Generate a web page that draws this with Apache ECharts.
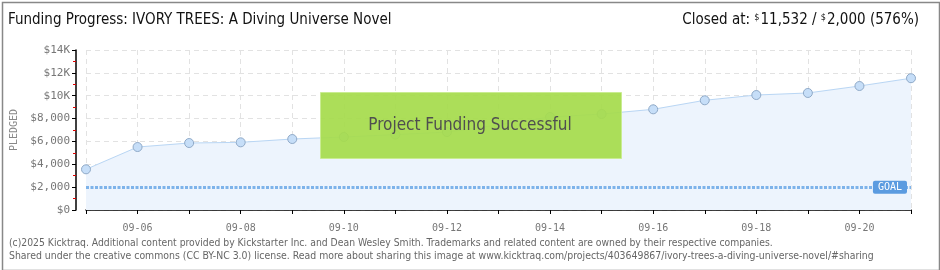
<!DOCTYPE html>
<html><head><meta charset="utf-8">
<script src="https://cdn.jsdelivr.net/npm/echarts@6/dist/echarts.min.js"></script>
<style>html,body{margin:0;padding:0;background:#fff}#c{width:940px;height:270px}</style>
</head><body><div id="c"></div>
<script>
const dates = ['09-05','09-06','09-07','09-08','09-09','09-10','09-11','09-12','09-13','09-14','09-15','09-16','09-17','09-18','09-19','09-20','09-21'];
const pledged = [3560,5510,5860,5920,6210,6390,6600,6820,7450,8140,8400,8810,9600,10060,10240,10850,11532];
const goal = 2000;
const yTicks = {0:'$0',2000:'$2,000',4000:'$4,000',6000:'$6,000',8000:'$8,000',10000:'$10K',12000:'$12K',14000:'$14K'};
const titleText = 'Funding Progress: IVORY TREES: A Diving Universe Novel';
const footer1 = '(c)2025 Kicktraq. Additional content provided by Kickstarter Inc. and Dean Wesley Smith. Trademarks and related content are owned by their respective companies.';
const footer2 = 'Shared under the creative commons (CC BY-NC 3.0) license. Read more about sharing this image at www.kicktraq.com/projects/403649867/ivory-trees-a-diving-universe-novel/#sharing';

const chart = echarts.init(document.getElementById('c'), null, {renderer:'canvas'});
const narrow = '"Liberation Sans Narrow","DejaVu Sans Condensed",sans-serif';
const axisFont = '"DejaVu Sans Mono","DejaVu Sans",sans-serif';
chart.setOption({
  animation:false,
  backgroundColor:'#fff',
  grid:{left:86,right:29,top:50,bottom:60,containLabel:false},
  xAxis:{type:'category',data:dates,boundaryGap:false,offset:10,
    axisLine:{lineStyle:{color:'#000',width:1.5}},
    axisTick:{show:true,interval:0,length:4,lineStyle:{color:'#000'}},
    axisLabel:{interval:(i)=>i%2===1,color:'#777',fontSize:10,fontFamily:axisFont,margin:3},
    splitLine:{show:true,interval:0,lineStyle:{color:'#e2e2e2',type:[5,4]}}},
  yAxis:{type:'value',min:0,max:14000,interval:2000,offset:10,
    axisLine:{show:true,lineStyle:{color:'#000',width:1.5}},
    axisTick:{show:true,length:4,lineStyle:{color:'#000'}},
    minorTick:{show:true,splitNumber:2,length:3,lineStyle:{color:'#e00000'}},
    axisLabel:{color:'#777',fontSize:11,fontFamily:axisFont,margin:6,formatter:(v)=>yTicks[v]},
    splitLine:{show:true,lineStyle:{color:'#e2e2e2',type:[5,4]}},
    name:'PLEDGED',nameLocation:'middle',nameGap:52,nameRotate:90,
    nameTextStyle:{color:'#888',fontSize:10,fontFamily:axisFont}},
  series:[{type:'line',data:pledged,symbol:'circle',symbolSize:9,
    lineStyle:{color:'#b9d6f4',width:1},
    itemStyle:{color:'#c6def8',borderColor:'#90aac8',borderWidth:1},
    areaStyle:{color:'#edf4fd',opacity:1},
    markLine:{silent:true,symbol:'none',
      data:[{yAxis:goal}],
      lineStyle:{color:'#7eb3ea',width:3,type:[3,1.5]},
      label:{show:true,position:'insideEnd',distance:[4,-7],formatter:'GOAL',color:'#fff',
        backgroundColor:'#5b9be0',borderRadius:2,padding:[2,5,1,5],fontSize:10,fontFamily:axisFont}}
  }],
  graphic:[
    {type:'rect',left:0,top:0,shape:{width:937,height:268},style:{fill:'none',stroke:'#888',lineWidth:1.5},z:-1},
    {type:'text',left:8,top:13,style:{text:titleText,font:'15px '+narrow,fill:'#111'}},
    {type:'text',right:21,top:13,style:{
      text:'{n|Closed at: }{s|$}{n|11,532 / }{s|$}{n|2,000 (576%)}',
      rich:{n:{font:'15px '+narrow,fill:'#111'},s:{font:'9px '+narrow,fill:'#111',verticalAlign:'top',padding:[0,1,6,0]}}}},
    {type:'rect',left:320,top:92,shape:{width:301,height:66},style:{fill:'#a6db4c',stroke:'#c8ec90',lineWidth:1,opacity:0.93},z:10},
    {type:'text',x:470,y:126,z:11,style:{text:'Project Funding Successful',font:'17px '+narrow,fill:'#4f4f4f',
      align:'center',verticalAlign:'middle',textShadowColor:'#fff',textShadowOffsetX:1,textShadowOffsetY:1,textShadowBlur:0}},
    {type:'text',left:9,top:238,style:{text:footer1,font:'10.3px '+narrow,fill:'#666'}},
    {type:'text',left:9,top:251,style:{text:footer2,font:'10.4px '+narrow,fill:'#666'}}
  ]
});
</script></body></html>
